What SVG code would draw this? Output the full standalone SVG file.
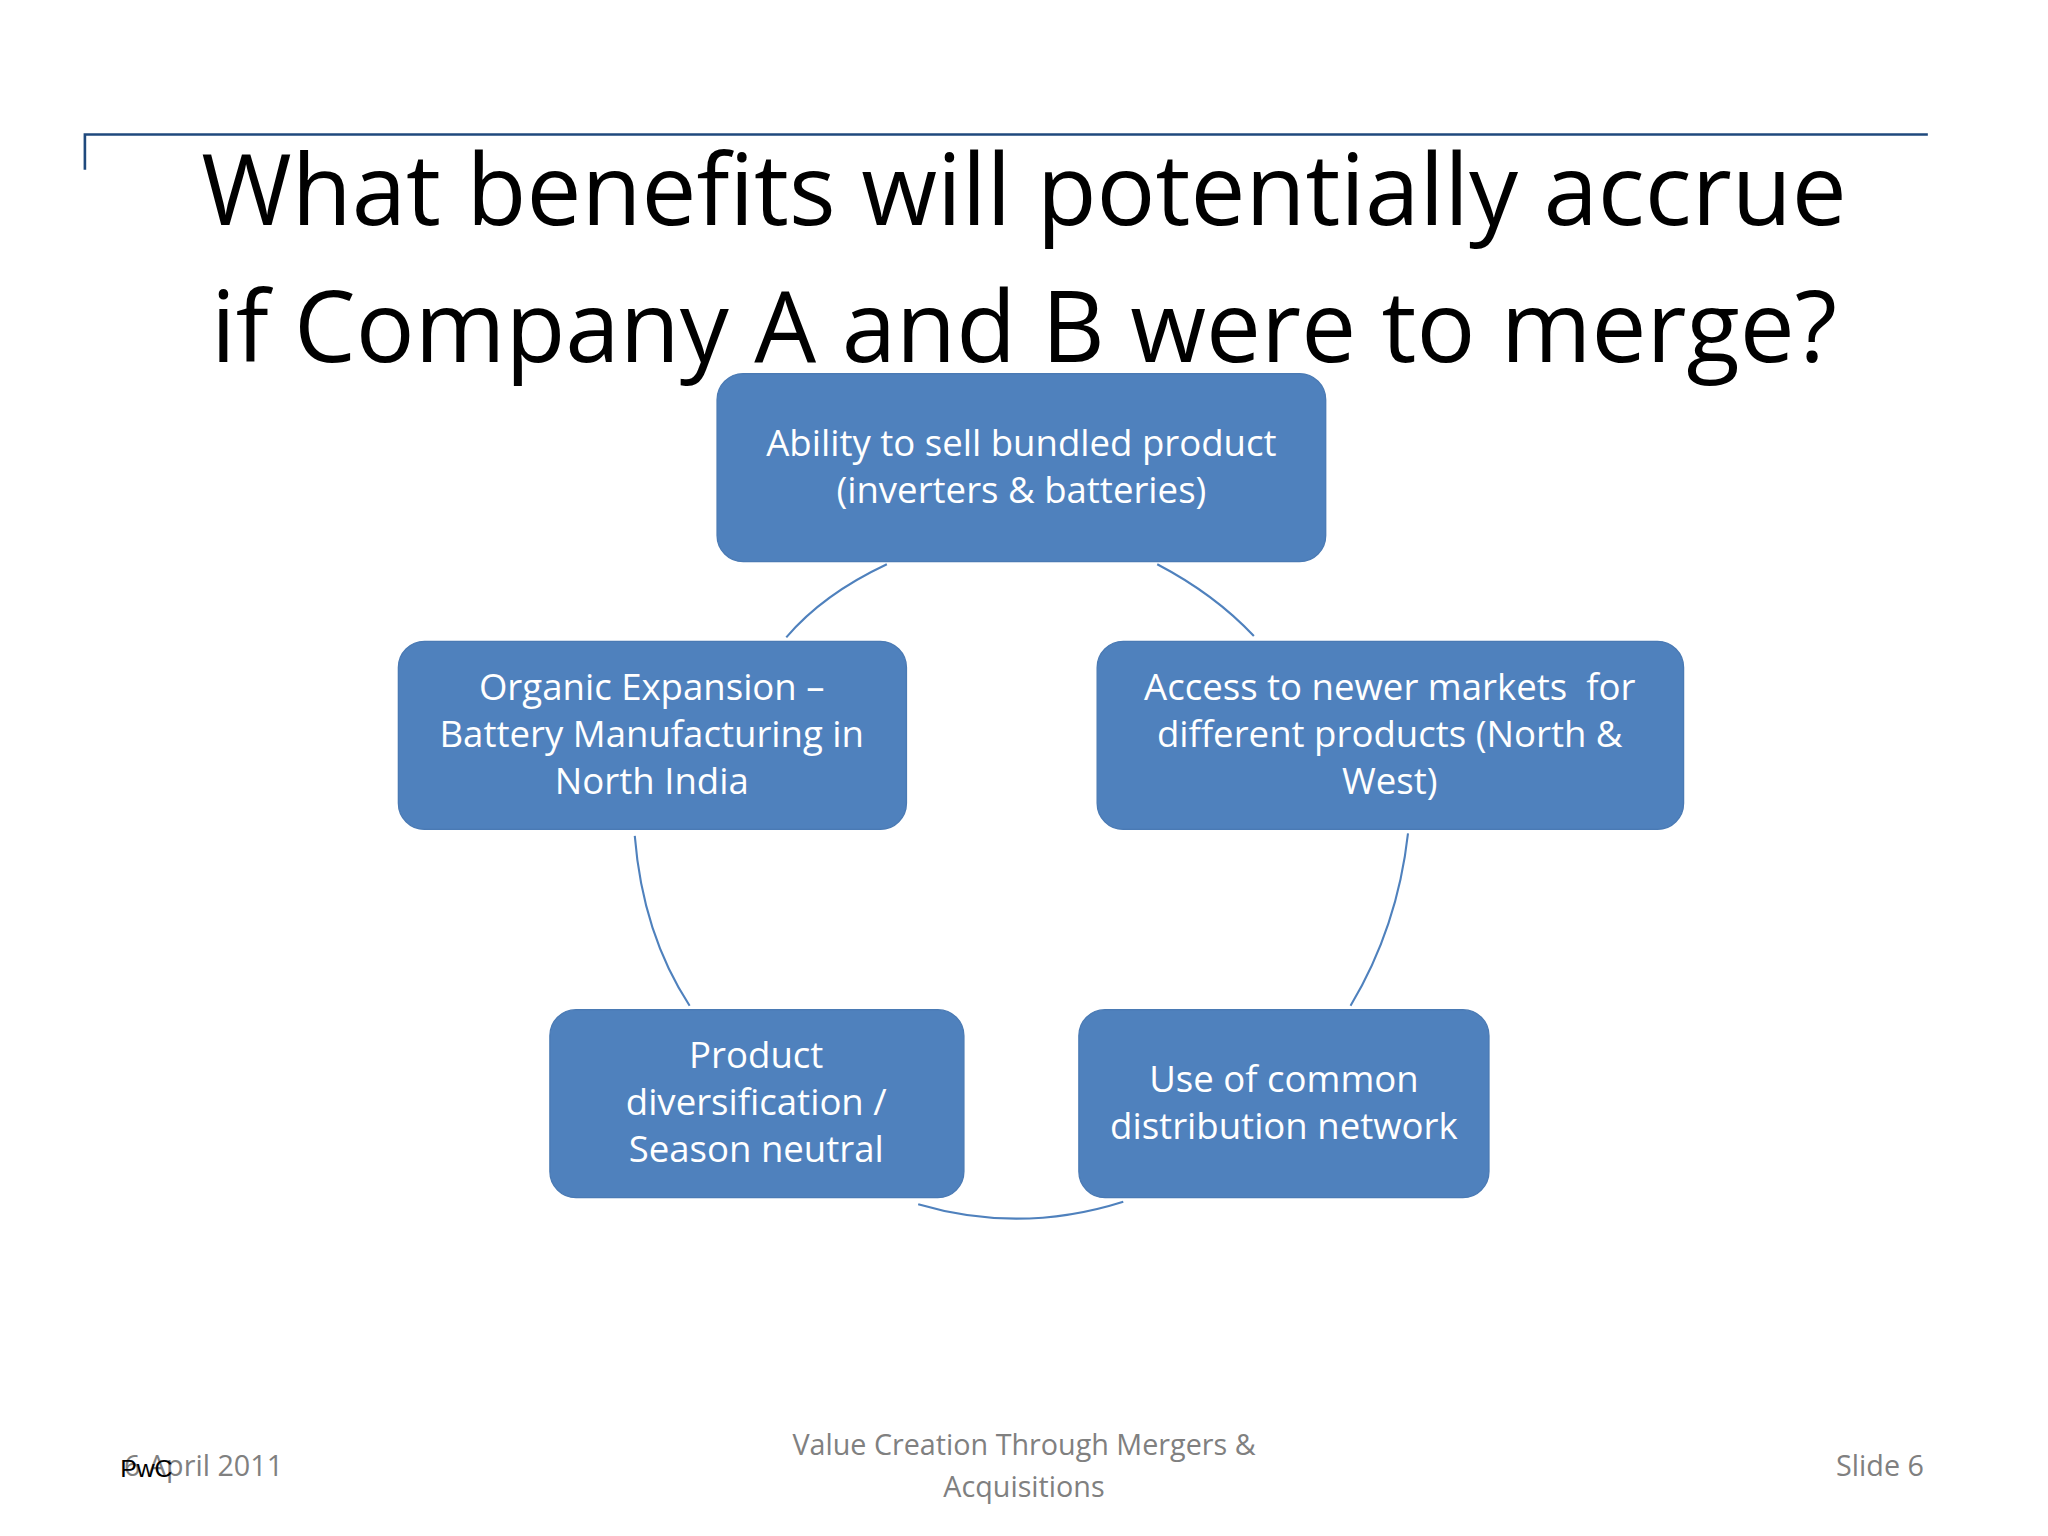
<svg xmlns="http://www.w3.org/2000/svg" width="2048" height="1536" viewBox="0 0 2048 1536">
<style>
.node rect{fill:#4F81BD;stroke:#4A7AB4;stroke-width:1}
.node text{fill:#fff;font-family:"Open Sans","Noto Sans",sans-serif;font-size:28px;text-anchor:middle}
.conn path{fill:none;stroke:#4F81BD;stroke-width:1.6}
.ft{fill:#808080;font-family:"Open Sans","Noto Sans",sans-serif;font-size:22px}
</style>
<rect width="2048" height="1536" fill="#fff"/>
<g transform="scale(1.306122)">
<path d="M65,130 V103 H1476" fill="none" stroke="#1F497D" stroke-width="2"/>
<g font-family="Open Sans,Noto Sans,sans-serif" font-size="75" text-anchor="middle" fill="#000">
<text x="784" y="172">What benefits will potentially accrue</text>
<text x="784" y="277">if Company A and B were to merge?</text>
</g>
<g class="conn">
<path d="M679,432 Q630,455 602,488"/>
<path d="M886,432 Q930,455 960,487"/>
<path d="M486,640 Q492,715 528,770"/>
<path d="M1078,638 Q1070,710 1034,770"/>
<path d="M703,922 Q781,945 860,920"/>
</g>
<g id="n1" class="node"><rect x="549" y="286" width="466" height="144" rx="20"/><text x="782" y="349">Ability to sell bundled product</text><text x="782" y="385">(inverters &amp; batteries)</text></g>
<g id="n2" class="node"><rect x="840" y="491" width="449" height="144" rx="20"/><text x="1064" y="536" xml:space="preserve">Access to newer markets  for</text><text x="1064" y="572">different products (North &amp;</text><text x="1064" y="608">West)</text></g>
<g id="n3" class="node"><rect x="826" y="773" width="314" height="144" rx="20"/><text x="983" y="836">Use of common</text><text x="983" y="872">distribution network</text></g>
<g id="n4" class="node"><rect x="421" y="773" width="317" height="144" rx="20"/><text x="579" y="818">Product</text><text x="579" y="854">diversification /</text><text x="579" y="890">Season neutral</text></g>
<g id="n5" class="node"><rect x="305" y="491" width="389" height="144" rx="20"/><text x="499" y="536">Organic Expansion –</text><text x="499" y="572">Battery Manufacturing in</text><text x="499" y="608">North India</text></g>
<text x="95" y="1130" class="ft">6 April 2011</text>
<text x="92" y="1131" font-family="Liberation Sans,sans-serif" font-size="19" fill="#000">PwC</text>
<text x="784" y="1114" class="ft" text-anchor="middle">Value Creation Through Mergers &amp;</text>
<text x="784" y="1146" class="ft" text-anchor="middle">Acquisitions</text>
<text x="1473" y="1130" class="ft" text-anchor="end">Slide 6</text>
</g>
</svg>
